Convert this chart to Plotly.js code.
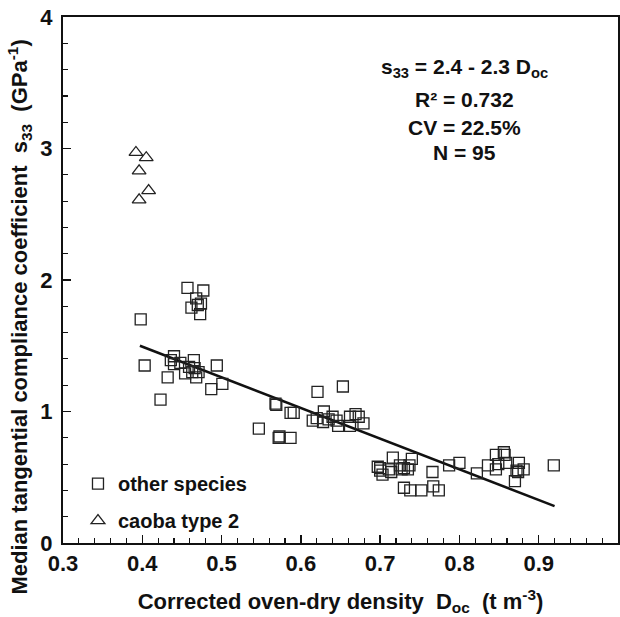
<!DOCTYPE html>
<html>
<head>
<meta charset="utf-8">
<script src="https://cdn.plot.ly/plotly-3.0.1.min.js"></script>
<style>html,body{margin:0;padding:0;background:#fff;}#chart{width:620px;height:617px;}</style>
</head>
<body>
<div id="chart"></div>
<script>
// other species (squares)
const otherX = [0.457,0.477,0.468,0.474,0.462,0.470,0.473,0.398,
  0.403,0.440,0.440,0.448,0.436,0.465,0.459,0.466,0.463,0.471,0.454,0.468,0.494,0.432,0.501,0.487,0.423,
  0.621,0.653,0.568,0.569,0.587,0.591,0.615,0.629,0.628,0.640,0.645,0.647,0.662,0.662,0.669,0.673,0.679,0.573,0.572,0.587,0.547,0.620,0.635,
  0.716,0.740,0.700,0.703,0.711,0.714,0.725,0.730,0.735,0.737,0.727,0.697,0.700,0.766,0.787,0.800,0.822,0.730,0.738,0.752,0.767,0.774,
  0.836,0.846,0.846,0.856,0.857,0.859,0.875,0.881,0.874,0.870,0.872,0.849,0.919];
const otherY = [1.94,1.92,1.86,1.82,1.79,1.81,1.74,1.70,
  1.35,1.42,1.36,1.37,1.39,1.39,1.34,1.33,1.30,1.30,1.29,1.26,1.35,1.26,1.21,1.17,1.09,
  1.15,1.19,1.06,1.05,0.99,0.99,0.93,1.00,0.92,0.96,0.93,0.89,0.89,0.96,0.98,0.96,0.91,0.81,0.80,0.80,0.87,0.95,0.94,
  0.65,0.64,0.57,0.52,0.56,0.54,0.59,0.57,0.56,0.59,0.56,0.58,0.55,0.54,0.59,0.61,0.53,0.42,0.40,0.40,0.43,0.40,
  0.59,0.67,0.56,0.69,0.67,0.61,0.61,0.56,0.54,0.47,0.55,0.60,0.59];
// caoba type 2 (triangles)
const caobaX = [0.392,0.405,0.396,0.408,0.396];
const caobaY = [2.97,2.93,2.83,2.68,2.61];
// regression line s33 = 2.4 - 2.3 Doc (end points)
const fitX = [0.397,0.920];
const fitY = [1.50,0.28];

const FONT = '"Liberation Sans", Arial, Helvetica, sans-serif';

const traces = [
  {x: fitX, y: fitY, mode: 'lines', line: {color: '#111', width: 2.5}, showlegend: false, hoverinfo: 'skip'},
  {x: otherX, y: otherY, mode: 'markers', name: 'other species', legendgroup: 'a',
   marker: {symbol: 'square-open', size: 11, color: '#222', line: {width: 1.3}}},
  {x: caobaX, y: caobaY, mode: 'markers', name: 'caoba type 2', legendgroup: 'b',
   marker: {symbol: 'triangle-up-open', size: 12, color: '#222', line: {width: 1.3}}}
];

const annY = [3.612, 3.376, 3.163, 2.966];
const annText = ['s<sub>33</sub> = 2.4 - 2.3 D<sub>oc</sub>', 'R² = 0.732', 'CV = 22.5%', 'N = 95'];

const layout = {
  width: 620, height: 617,
  margin: {l: 63, r: 2, t: 17, b: 74},
  paper_bgcolor: '#fff', plot_bgcolor: '#fff',
  font: {family: FONT, color: '#111', size: 18, weight: 'bold'},
  showlegend: true,
  legend: {x: 0.027, y: 0.15, xanchor: 'left', yanchor: 'top', bgcolor: 'rgba(0,0,0,0)',
    font: {family: FONT, size: 20, weight: 'bold', color: '#111'}, tracegroupgap: 8, traceorder: 'grouped', itemwidth: 30},
  xaxis: {
    range: [0.3, 1.0], ticks: 'inside', ticklen: 8, tickwidth: 1.5, tickcolor: '#111',
    showline: true, linecolor: '#111', linewidth: 2, mirror: true, showgrid: false, zeroline: false,
    tickfont: {family: FONT, size: 22, weight: 'bold'},
    tickvals: [0.3,0.4,0.5,0.6,0.7,0.8,0.9,1.0], ticktext: ['0.3','0.4','0.5','0.6','0.7','0.8','0.9','1'],
    minor: {dtick: 0.02, tick0: 0.3, ticks: 'inside', ticklen: 5, tickcolor: '#111', tickwidth: 1.2},
    title: {text: 'Corrected oven-dry density  D<sub>oc</sub>  (t m<sup>-3</sup>)', font: {family: FONT, size: 22, weight: 'bold'}, standoff: 18}
  },
  yaxis: {
    range: [0, 4], dtick: 1, ticks: 'inside', ticklen: 8, tickwidth: 1.5, tickcolor: '#111',
    showline: true, linecolor: '#111', linewidth: 2, mirror: true, showgrid: false, zeroline: false,
    tickfont: {family: FONT, size: 22, weight: 'bold'}, ticklabelstandoff: 4,
    minor: {dtick: 0.2, ticks: 'inside', ticklen: 5, tickcolor: '#111', tickwidth: 1.2}
  },
  annotations: annText.map((t, i) => ({
    x: 0.806, y: annY[i], xref: 'x', yref: 'y', text: t, showarrow: false,
    font: {family: FONT, size: 21, weight: 'bold', color: '#111'}, xanchor: 'center', yanchor: 'middle'
  })).concat([{
    x: -0.078, y: 0.43, xref: 'paper', yref: 'paper', textangle: -90, showarrow: false,
    xanchor: 'center', yanchor: 'middle',
    text: 'Median tangential compliance coefficient  s<sub>33</sub>  (GPa<sup>-1</sup>)',
    font: {family: FONT, size: 22, weight: 'bold', color: '#111'}
  }])
};

Plotly.newPlot('chart', traces, layout, {displayModeBar: false, staticPlot: true});
</script>
</body>
</html>
